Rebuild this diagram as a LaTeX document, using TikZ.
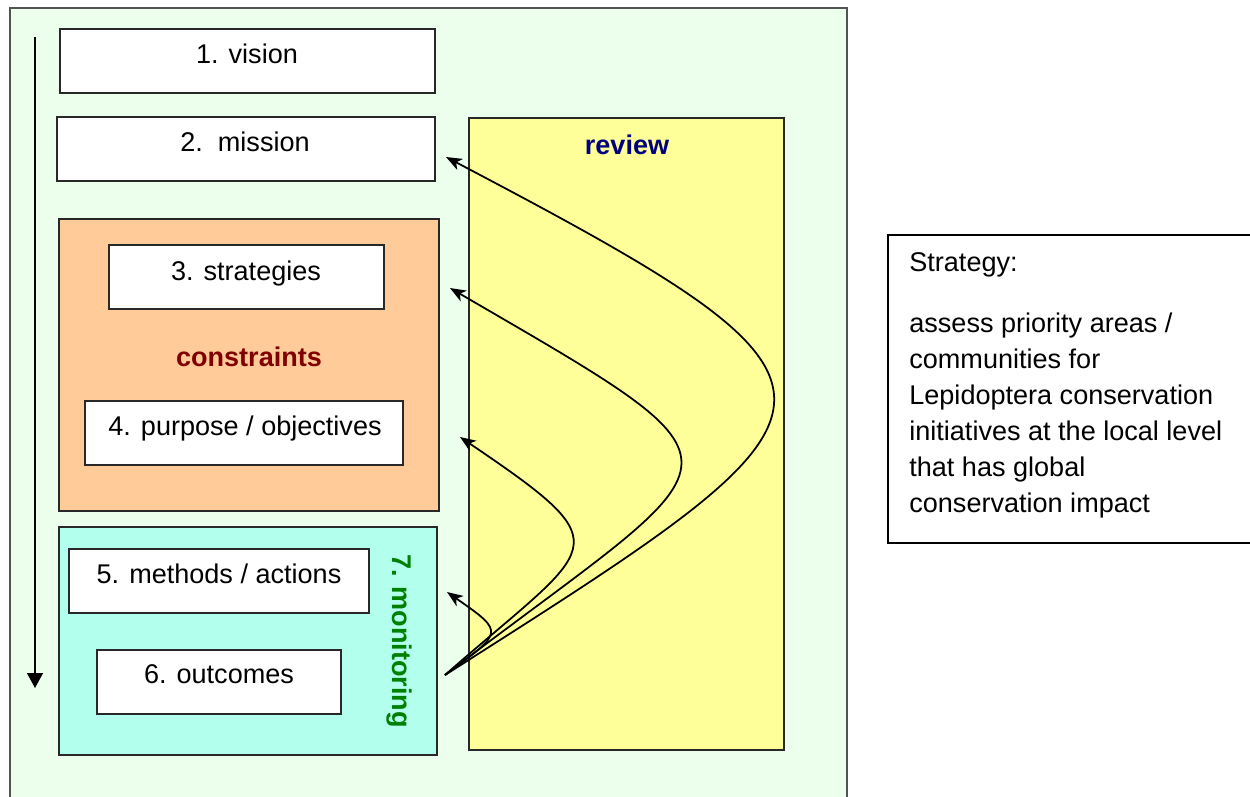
\documentclass[tikz,border=0pt]{standalone}
\usepackage{fontspec}
\setmainfont{Liberation Sans}
\usetikzlibrary{arrows.meta}

\definecolor{paleground}{RGB}{236,255,236}
\definecolor{apricot}{RGB}{255,204,153}
\definecolor{aqua}{RGB}{178,255,238}
\definecolor{lemon}{RGB}{255,255,153}
\definecolor{edge}{RGB}{40,40,40}
\definecolor{navytext}{RGB}{0,0,128}
\definecolor{maroontext}{RGB}{128,0,0}
\definecolor{greentext}{RGB}{0,128,0}

\tikzset{
  x=0.02cm, y=-0.02cm,
  panel/.style={draw=edge, line width=1pt, inner sep=0pt},
  stepbox/.style={draw=edge, line width=1pt, fill=white},
  boxtext/.style={inner sep=0pt, anchor=base, font=\fontsize{15.4}{18}\selectfont},
  tag/.style={inner sep=0pt, anchor=base, font=\fontsize{15.4}{18}\selectfont\bfseries},
  flow/.style={line width=1pt, -{Stealth[length=9pt,width=7pt,inset=2.5pt]}},
}

\begin{document}
\begin{tikzpicture}
\useasboundingbox (0,0) rectangle (1250,796);
\clip (0,0) rectangle (1250,796);
\fill[white] (0,0) rectangle (1250,796);

% outer frame
\draw[fill=paleground, draw=edge!80, line width=1pt] (10,8) rectangle (847,812);

% sequence arrow
\coordinate (seqtop) at (35,37);
\coordinate (seqend) at (35,688);
\draw[line width=1pt, -{Triangle[length=8.5pt,width=9pt]}] (seqtop) -- (seqend);

% review panel
\draw[panel, fill=lemon] (469,118) rectangle (784,750);
\node[tag, text=navytext] (review) at (627,154) {review};

% constraints panel
\draw[panel, fill=apricot] (59,219) rectangle (439,511);
\node[tag, text=maroontext] (constraints) at (249,366) {constraints};

% monitoring panel
\draw[panel, fill=aqua] (59,527) rectangle (437,755);
\node[tag, text=greentext, rotate=-90, anchor=center] (monitoring) at (399,641) {7. monitoring};

% step boxes
\draw[stepbox] (60,29) rectangle (435,93);
\node[boxtext] (t1) at (247,63) {1. vision};
\draw[stepbox] (57,117) rectangle (435,181);
\node[boxtext] (t2) at (245,151) {2.\ \ mission};
\draw[stepbox] (109,245) rectangle (384,309);
\node[boxtext] (t3) at (246,280) {3. strategies};
\draw[stepbox] (85,401) rectangle (403,465);
\node[boxtext] (t4) at (245,435) {4. purpose / objectives};
\draw[stepbox] (69,549) rectangle (369,613);
\node[boxtext] (t5) at (219,583) {5. methods / actions};
\draw[stepbox] (97,650) rectangle (341,714);
\node[boxtext] (t6) at (219,683) {6. outcomes};

% feedback loops
\coordinate (src) at (445,675);
\coordinate (toMission) at (446,157);
\coordinate (toStrategies) at (450,288);
\coordinate (toPurpose) at (460,437);
\coordinate (toMethods) at (447,592);
\draw[flow] (src) .. controls +(426,-271) and +(447,235) .. (toMission);
\draw[flow] (src) .. controls +(297,-227) and +(323,188) .. (toStrategies);
\draw[flow] (src) .. controls +(151,-133) and +(167,113) .. (toPurpose);
\draw[flow] (src) .. controls +(58,-43) and +(59,41) .. (toMethods);

% note box
\draw[draw=black, line width=1pt, fill=white] (888,235) rectangle (1260,543);
\node[inner sep=0pt, anchor=base west, font=\fontsize{15.4}{18}\selectfont] (notehead) at (909,271) {Strategy:};
\node[inner sep=0pt, anchor=north west, align=left,
      font=\fontsize{15.4}{20.4}\selectfont] (notebody) at (909,313)
  {assess priority areas /\\communities for\\Lepidoptera conservation\\initiatives at the local level\\that has global\\conservation impact};
\end{tikzpicture}
\end{document}
